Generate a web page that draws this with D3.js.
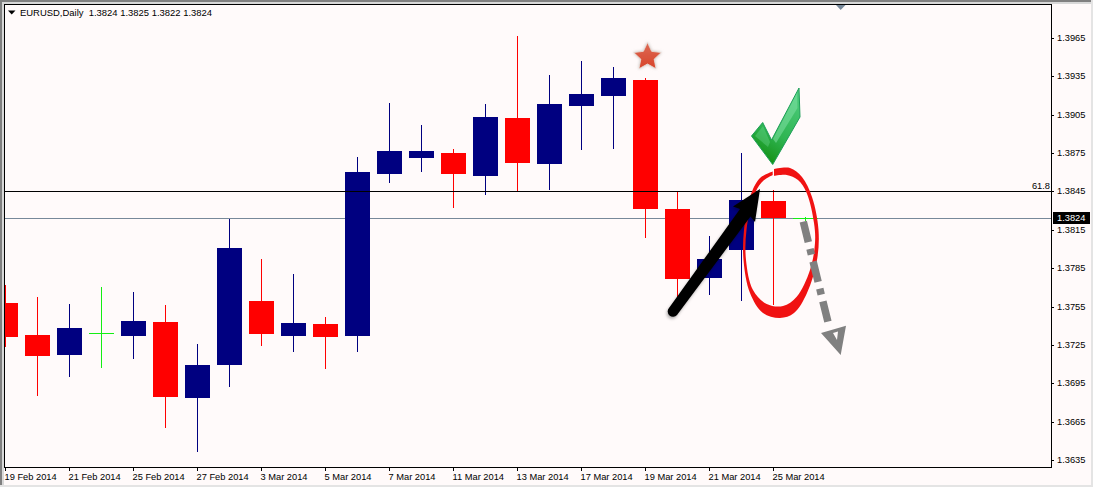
<!DOCTYPE html>
<html><head><meta charset="utf-8">
<script src="https://cdn.jsdelivr.net/npm/d3@7"></script>
<style>
html,body{margin:0;padding:0;background:#fffafa;overflow:hidden}
svg{display:block}
text{font-family:"Liberation Sans",Arial,sans-serif;font-size:9.3px;fill:#000}
text.ttl{font-size:9.45px}
</style></head><body>
<svg id="c" width="1093" height="487"></svg>
<script>
const title = "EURUSD,Daily  1.3824 1.3825 1.3822 1.3824";
const dateLabels = ["19 Feb 2014","21 Feb 2014","25 Feb 2014","27 Feb 2014","3 Mar 2014","5 Mar 2014","7 Mar 2014","11 Mar 2014","13 Mar 2014","17 Mar 2014","19 Mar 2014","21 Mar 2014","25 Mar 2014"];
const priceTicks = [1.3965,1.3935,1.3905,1.3875,1.3845,1.3815,1.3785,1.3755,1.3725,1.3695,1.3665,1.3635];
const opens  = [1.37578,1.37327,1.37171,1.37343,1.37320,1.37429,1.36835,1.37093,1.37593,1.37320,1.37413,1.37320,1.38586,1.38712,1.38751,1.38571,1.39024,1.38665,1.39118,1.39196,1.39322,1.38313,1.37773,1.37992,1.38375,1.3824];
const highs  = [1.37718,1.37625,1.37570,1.37703,1.37664,1.37562,1.37257,1.38235,1.37922,1.37804,1.37468,1.38719,1.39142,1.38970,1.38782,1.39134,1.39666,1.39361,1.39470,1.39423,1.39337,1.38454,1.38102,1.38751,1.38461,1.3825];
const lows   = [1.37234,1.36850,1.36999,1.37069,1.37140,1.36600,1.36413,1.36921,1.37241,1.37195,1.37062,1.37195,1.38516,1.38602,1.38321,1.38422,1.38454,1.38461,1.38774,1.38782,1.38086,1.37601,1.37640,1.37593,1.37562,1.3822];
const closes = [1.37312,1.37163,1.37382,1.37343,1.37437,1.36843,1.37093,1.38008,1.37335,1.37421,1.37312,1.38602,1.38766,1.38766,1.38586,1.39032,1.38672,1.39134,1.39212,1.39337,1.38313,1.37765,1.37922,1.38383,1.38242,1.3824];
const fibLevel = 1.38454, fibLabel = "61.8";
const bidPrice = 1.3824, bidLabel = "1.3824";

const L=4, T=4, R=1051, B=467, BW=25;
const svg = d3.select("#c");
const y = d3.scaleLinear().domain([1.3635,1.3965]).range([460,38]);
const x = d3.scaleLinear().domain([0,1]).range([5.5,37.5]);
const py = v => Math.round(y(v));

// window chrome
svg.append("rect").attr("width",1093).attr("height",487).attr("fill","#fffafa");
svg.append("rect").attr("width",1093).attr("height",2).attr("fill","#808080");
svg.append("rect").attr("y",2).attr("width",1093).attr("height",2).attr("fill","#d8d8d8");
svg.append("rect").attr("width",2).attr("height",487).attr("fill","#808080");
svg.append("rect").attr("x",2).attr("y",2).attr("width",2).attr("height",485).attr("fill","#d8d8d8");
svg.append("rect").attr("y",485).attr("width",1093).attr("height",2).attr("fill","#e4e4e4");
svg.append("rect").attr("x",1091).attr("width",2).attr("height",487).attr("fill","#e4e4e4");

const defs = svg.append("defs");
defs.append("clipPath").attr("id","plot").append("rect").attr("x",L+1).attr("y",T+1).attr("width",R-L-1).attr("height",B-T-1);
const f = defs.append("filter").attr("id","sh").attr("x","-20%").attr("y","-20%").attr("width","140%").attr("height","140%");
f.append("feDropShadow").attr("dx",-1).attr("dy",2).attr("stdDeviation",1.5).attr("flood-color","#000").attr("flood-opacity",.3);
const f2 = defs.append("filter").attr("id","halo").attr("x","-30%").attr("y","-30%").attr("width","160%").attr("height","160%");
f2.append("feDropShadow").attr("dx",0).attr("dy",0).attr("stdDeviation",1.5).attr("flood-color","#b5b0aa").attr("flood-opacity",.75);
const gc = defs.append("linearGradient").attr("id","chk").attr("x1",.75).attr("y1",0).attr("x2",.35).attr("y2",1);
gc.append("stop").attr("offset",0).attr("stop-color","#4ccb7c");
gc.append("stop").attr("offset",.6).attr("stop-color","#2fb552");
gc.append("stop").attr("offset",1).attr("stop-color","#138f13");
const gs = defs.append("linearGradient").attr("id","str").attr("x1",0).attr("y1",0).attr("x2",0).attr("y2",1);
gs.append("stop").attr("offset",0).attr("stop-color","#dc6a55");
gs.append("stop").attr("offset",1).attr("stop-color","#d8442a");

const plot = svg.append("g").attr("clip-path","url(#plot)");

// bid line, under the candles
plot.append("line").attr("x1",L).attr("x2",R).attr("y1",py(bidPrice)+.5).attr("y2",py(bidPrice)+.5).attr("stroke","#778899");

// candles
const bars = opens.map((o,i)=>({i,o,h:highs[i],l:lows[i],c:closes[i]}));
const col = d => d.c>d.o ? "#000080" : d.c<d.o ? "#ff0000" : "#14ee14";
const g = plot.selectAll("g.b").data(bars).join("g").attr("class","b");
g.append("line").attr("x1",d=>Math.floor(x(d.i))+.5).attr("x2",d=>Math.floor(x(d.i))+.5)
 .attr("y1",d=>py(d.h)).attr("y2",d=>py(d.l)).attr("stroke",col);
g.filter(d=>d.c!==d.o).append("rect")
 .attr("x",d=>x(d.i)-BW/2).attr("width",BW)
 .attr("y",d=>py(Math.max(d.o,d.c))).attr("height",d=>py(Math.min(d.o,d.c))-py(Math.max(d.o,d.c)))
 .attr("fill",col);
g.filter(d=>d.c===d.o).append("line")
 .attr("x1",d=>x(d.i)-BW/2).attr("x2",d=>x(d.i)+BW/2)
 .attr("y1",d=>py(d.o)+.5).attr("y2",d=>py(d.o)+.5).attr("stroke",col);

// fibo line and label
plot.append("line").attr("x1",L).attr("x2",R).attr("y1",py(fibLevel)+.5).attr("y2",py(fibLevel)+.5).attr("stroke","#000");
svg.append("text").attr("x",R-1).attr("y",py(fibLevel)-2).attr("text-anchor","end").text(fibLabel);

// hand drawn annotations
const cr = d3.line().curve(d3.curveCatmullRom.alpha(.5));
const outer=[[774,169],[790,168],[802,177],[812,197],[818.5,230],[817,260],[807,293],[794,313],[780,318],[763,313],[750,293],[743.5,260],[744,230],[750,197],[760,178],[772.7,171.5]];
const inner=[[772.7,175],[762,182],[753.5,197],[746.5,230],[746,260],[753,290],[766.7,304],[783,306],[796.7,296.7],[810,270],[815,243],[814,223],[806.7,193],[798,180],[786.7,175],[774,176]];
svg.append("path").attr("fill","#f01212").attr("d",cr(outer)+"L"+inner[0].join(",")+cr(inner).replace(/^M[^C]*/,"")+"Z");

svg.append("path").attr("filter","url(#sh)").attr("fill","#000")
  .attr("d","M760,189L755,222L750.5,216.5L677,315A5,5 0 0 1 669,308L740,209L733,206.5Z");

const ga = svg.append("g");
ga.append("line").attr("x1",803.3).attr("y1",221.7).attr("x2",828.3).attr("y2",323.3)
  .attr("stroke","#808080").attr("stroke-width",7.5).attr("stroke-dasharray","21 7 6 7");
ga.append("path").attr("fill","#808080").attr("fill-rule","evenodd")
  .attr("d","M821,333L846,325.7L840.7,355ZM833,333L838,331.5L837,340Z");

// star
const starPts = d3.range(10).map(k=>{const r=k%2?7:14.5,a=-Math.PI/2+k*Math.PI/5;return [647.5+r*Math.cos(a),57+r*Math.sin(a)];});
svg.append("path").attr("filter","url(#halo)").attr("fill","url(#str)").attr("stroke","#e9e3de").attr("stroke-width",.8).attr("stroke-linejoin","round")
  .attr("d","M"+starPts.join("L")+"Z");

// check mark
svg.append("path").attr("fill","url(#chk)").attr("stroke","#1e9e58").attr("stroke-width",1)
  .attr("d","M772.7,164.5L751.5,136L762.7,122.5L771.5,140L799,88L800,117Z");
svg.append("path").attr("fill","#7fe0a4").attr("opacity",.55).attr("d","M773,139L797,93L797.5,108L776,143Z");
svg.append("path").attr("fill","#7fe0a4").attr("opacity",.3).attr("d","M755,136L763,126L770,142L768,147Z");

// frame
svg.append("rect").attr("x",L+.5).attr("y",T+.5).attr("width",R-L).attr("height",B-T).attr("fill","none").attr("stroke","#000");

// chart-shift marker & title
svg.append("path").attr("fill","#778899").attr("d","M836,5H845.5L840.7,10Z");
svg.append("path").attr("fill","#000").attr("d","M8,10.5H15.5L11.7,14.5Z");
svg.append("text").attr("class","ttl").attr("x",20).attr("y",16).style("white-space","pre").text(title);

// price axis
const ya = svg.append("g").attr("transform",`translate(${R},0)`);
const yt = ya.selectAll("g").data(priceTicks).join("g").attr("transform",d=>`translate(0,${py(d)+.5})`);
yt.append("line").attr("x2",3).attr("stroke","#000");
yt.append("text").attr("x",6).attr("y",-1).attr("dy","0.35em").text(d=>d3.format(".4f")(d));

// bid box
svg.append("rect").attr("x",1053).attr("y",py(bidPrice)-6).attr("width",37).attr("height",12).attr("fill","#000");
svg.append("text").attr("x",1057).attr("y",py(bidPrice)-.5).attr("dy","0.35em").style("fill","#fff").text(bidLabel);

// time axis
const xa = svg.append("g");
const xt = xa.selectAll("g").data(dateLabels).join("g").attr("transform",(d,i)=>`translate(${Math.floor(x(i*2))+.5},${B})`);
xt.append("line").attr("y2",4).attr("stroke","#000");
xt.append("text").attr("x",-1).attr("y",13).text(d=>d);
</script>
</body></html>
